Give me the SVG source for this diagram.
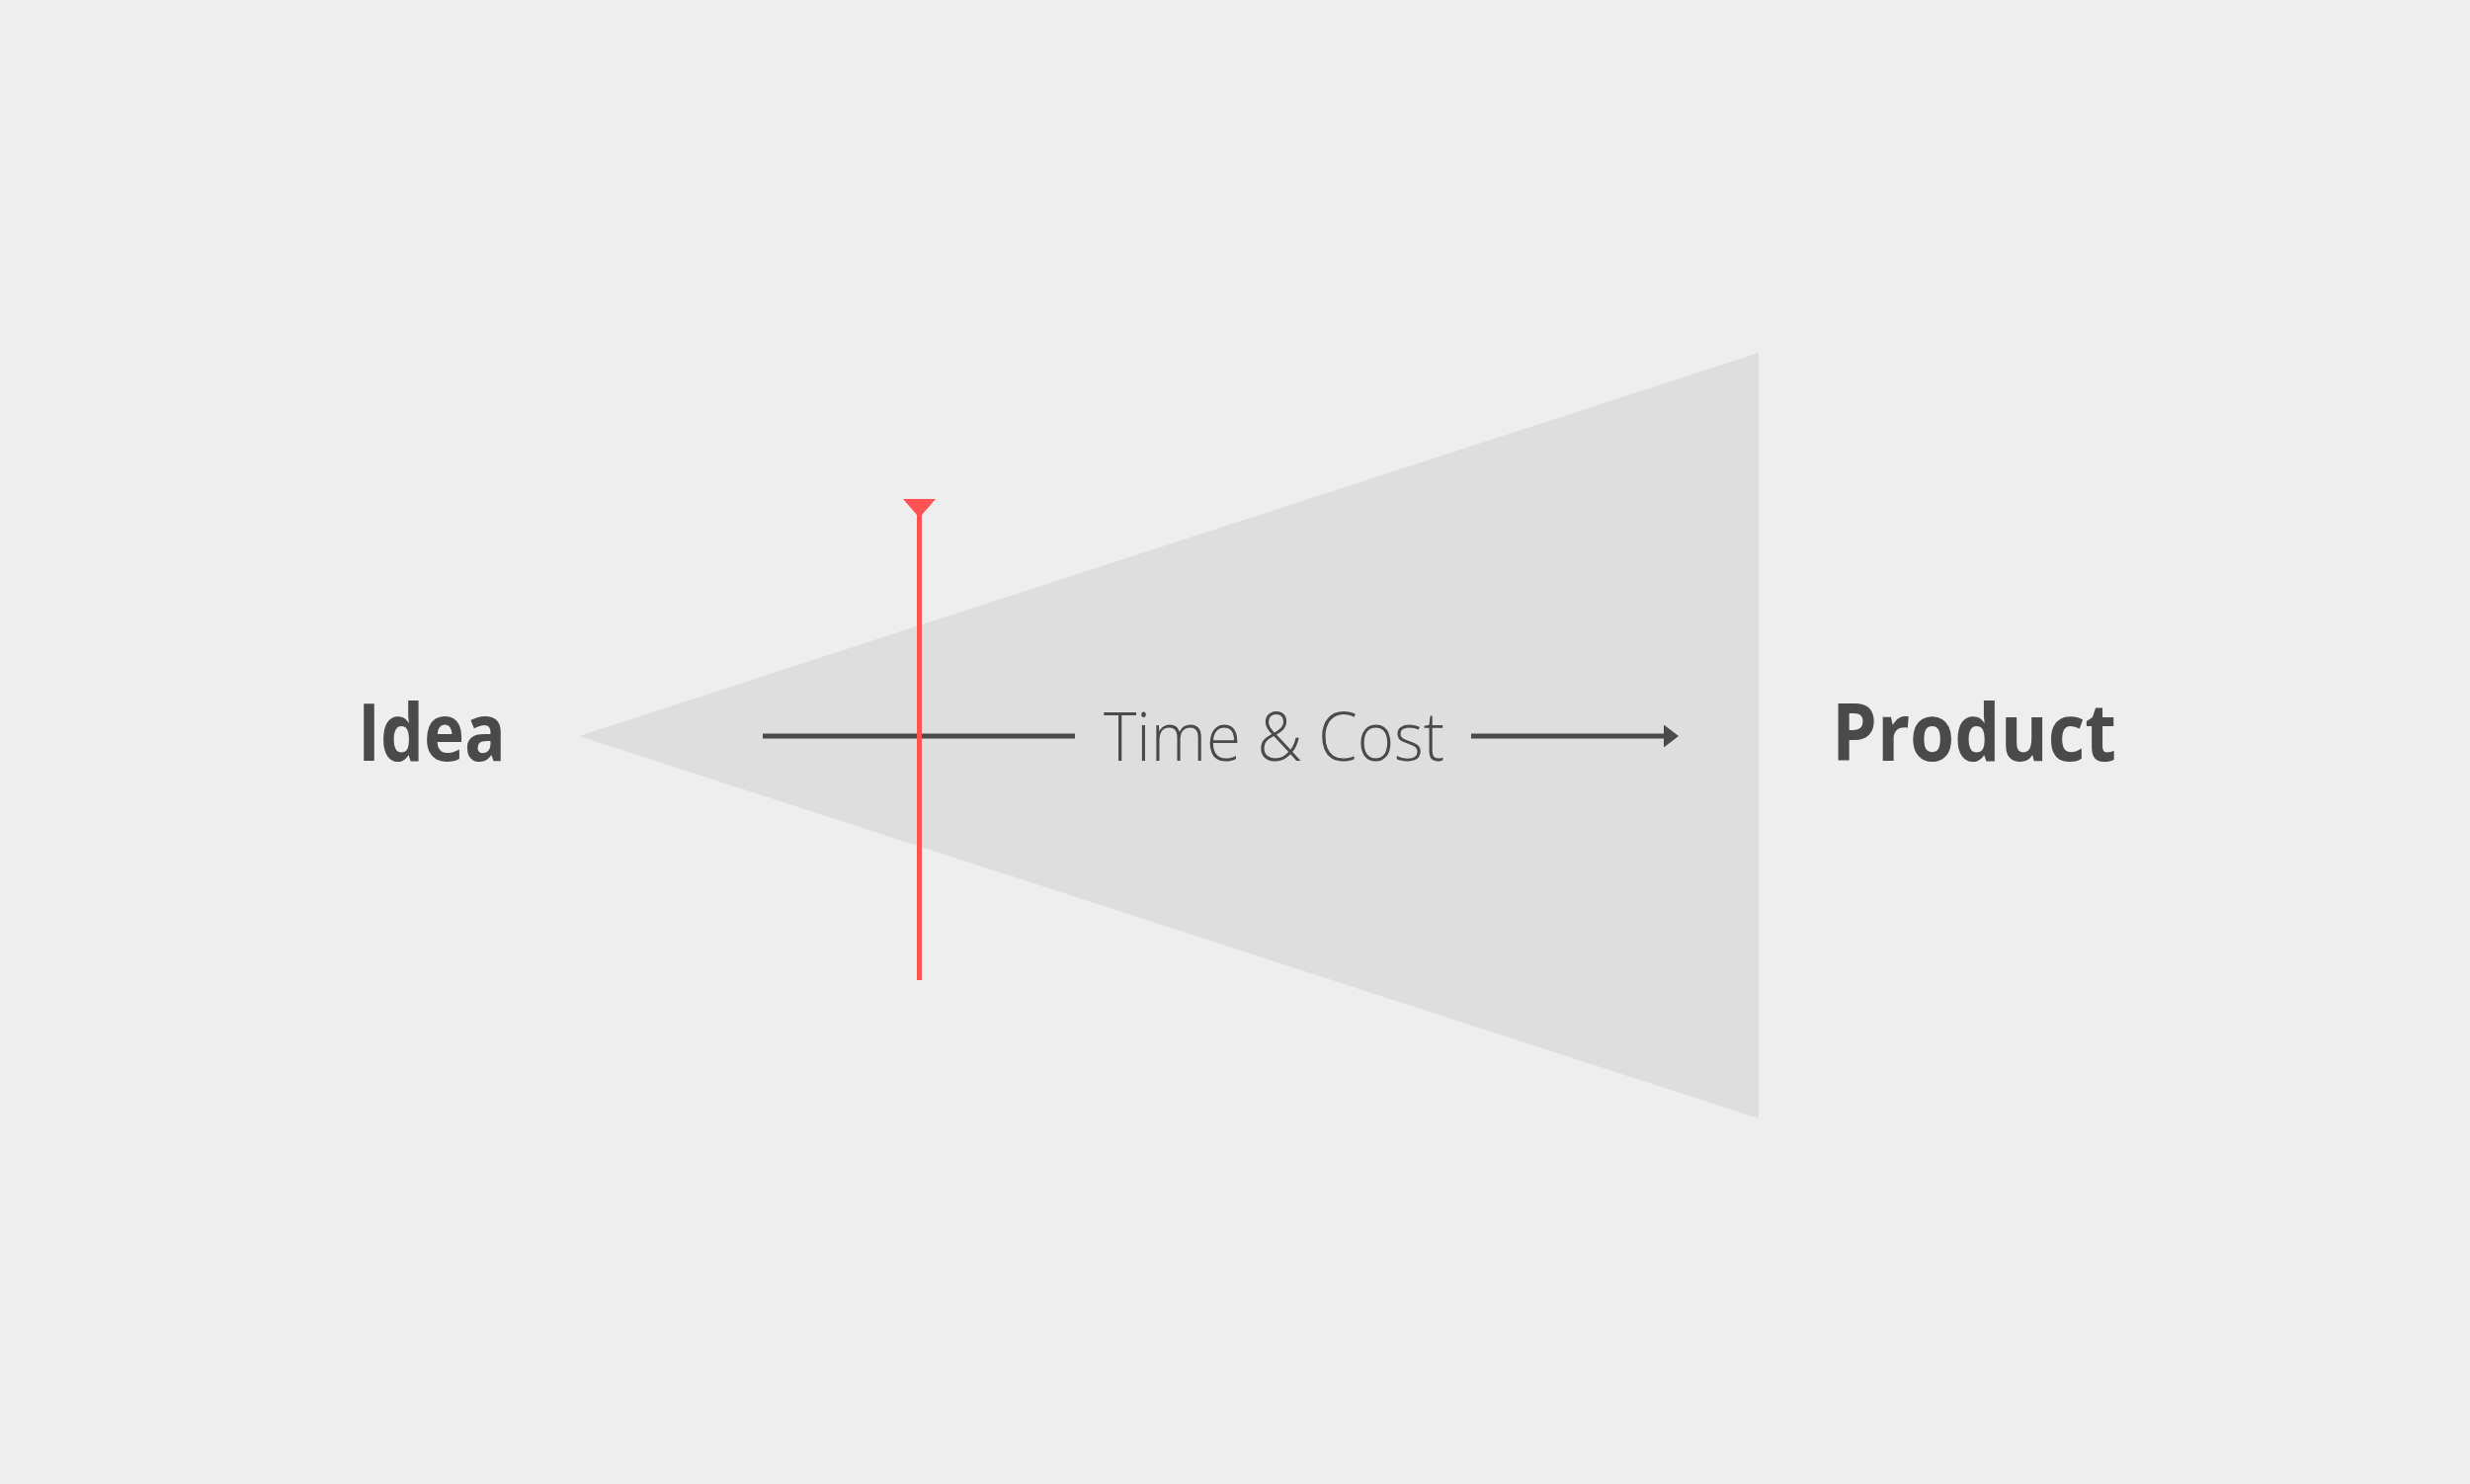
<svg xmlns="http://www.w3.org/2000/svg" width="2500" height="1502" viewBox="0 0 2500 1502">
<style>
.lbl{font-family:"Source Sans Pro","Open Sans","Liberation Sans",sans-serif;fill:#4a4a4a}
.big{font-weight:700;font-size:80px}
.mid{font-weight:300;font-size:68px}
</style>
<defs>
<marker id="arr" viewBox="0 0 15 23" refX="0" refY="11.5" markerWidth="15" markerHeight="23" markerUnits="userSpaceOnUse" orient="auto">
<path d="M0,0 L15,11.5 L0,23 Z" fill="#4a4a4a"/>
</marker>
</defs>
<rect width="2500" height="1502" fill="#eeeeee"/>
<g id="cone"><polygon points="586,745 1780,357 1780,1132" fill="#dedede"/></g>
<g id="idea"><text class="lbl big" x="362" y="770" textLength="150" lengthAdjust="spacingAndGlyphs">Idea</text></g>
<g id="product"><text class="lbl big" x="1854" y="770" textLength="288" lengthAdjust="spacingAndGlyphs">Product</text></g>
<g id="timecost"><text class="lbl mid" x="1117" y="770" textLength="345" lengthAdjust="spacingAndGlyphs">Time &amp; Cost</text></g>
<g id="connectors">
<line x1="772" y1="745" x2="1088" y2="745" stroke="#4a4a4a" stroke-width="5"/>
<line x1="1489" y1="745" x2="1684" y2="745" stroke="#4a4a4a" stroke-width="5" marker-end="url(#arr)"/>
</g>
<g id="marker">
<line x1="930.5" y1="515" x2="930.5" y2="992" stroke="#ff5252" stroke-width="5"/>
<polygon points="914,505 947,505 930.5,524" fill="#ff5252"/>
</g>
</svg>
